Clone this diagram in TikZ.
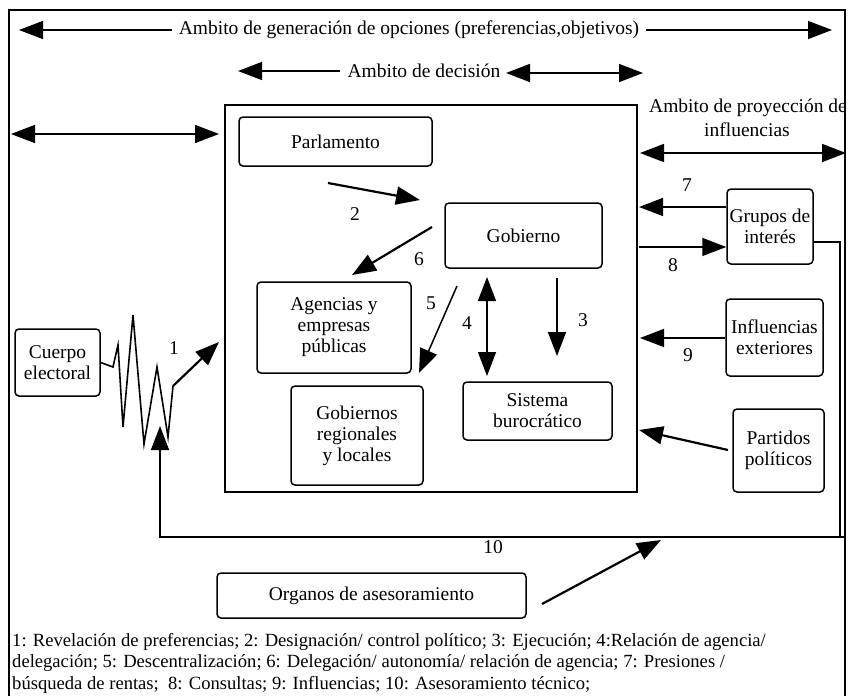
\documentclass[tikz,border=0pt]{standalone}
\usepackage{fontspec}
\setmainfont{Liberation Serif}
\usetikzlibrary{arrows.meta}
\tikzset{
  txt/.style={font=\fontsize{19.5}{21}\selectfont, inner sep=2pt},
  scopelbl/.style={font=\fontsize{19.5}{21}\selectfont, inner xsep=7pt, inner ysep=2pt},
  box/.style={draw, rounded corners=4pt, line width=1.5pt, align=center, inner sep=0pt, font=\fontsize{19.5}{21}\selectfont},
  arr/.style={line width=2.2pt, -{Triangle[length=24pt,width=18pt]}},
  darr/.style={line width=1.6pt, {Triangle[length=24pt,width=18pt]}-{Triangle[length=24pt,width=18pt]}},
  thin arr/.style={line width=1.5pt, -{Triangle[length=24pt,width=18pt]}},
  frame/.style={line width=2.4pt},
  num/.style={font=\fontsize{19.5}{21}\selectfont, inner sep=0pt},
}
\begin{document}
\begin{tikzpicture}[x=1pt,y=-1pt]
\useasboundingbox (0,0) rectangle (855,696);
% inner decision box
\node[draw, line width=1.4pt, minimum width=412pt, minimum height=387pt, inner sep=0pt] (inner) at (431,298.5) {};

% top scope arrows
\node[scopelbl] (gen) at (409,30) {Ambito de generación de opciones (preferencias,objetivos)};
\coordinate (genL) at (19,30);
\coordinate (genR) at (832,30);
\draw[thin arr] (gen.west) -- (genL);
\draw[thin arr] (gen.east) -- (genR);

\node[scopelbl] (dec) at (424,71) {Ambito de decisión};
\coordinate (decL) at (238,71);
\coordinate (decA) at (506,73);
\coordinate (decB) at (643,73);
\draw[thin arr] (dec.west) -- (decL);
\draw[darr] (decA) -- (decB);

\coordinate (leftA) at (11,134);
\coordinate (leftB) at (219,134);
\draw[darr] (leftA) -- (leftB);

\begin{scope}
\clip (600,90) rectangle (845,120);
\node[txt, anchor=west] (proy) at (647,108) {Ambito de proyección de};
\end{scope}
\node[txt] (infl) at (747,130) {influencias};
\coordinate (proyA) at (640,153);
\coordinate (proyB) at (846,153);
\draw[darr] (proyA) -- (proyB);

% outer frame
\draw[frame] (9,696) -- (9,10) -- (845,10) -- (845,696);

% boxes
\node[box, minimum width=193pt, minimum height=49pt] (parl) at (335.5,141.5) {Parlamento};
\node[box, minimum width=157pt, minimum height=65pt] (gob) at (523.5,235.5) {Gobierno};
\node[box, minimum width=154pt, minimum height=91pt] (agen) at (334,327.5) {Agencias y\\empresas\\públicas};
\node[box, minimum width=132pt, minimum height=99pt] (greg) at (357,435.5) {Gobiernos\\regionales\\y locales};
\node[box, minimum width=149pt, minimum height=58pt] (sist) at (537.5,411) {Sistema\\burocrático};
\node[box, minimum width=86pt, minimum height=75pt] (grup) at (770,226.5) {Grupos de\\interés};
\node[box, minimum width=97pt, minimum height=77pt] (infx) at (774.5,337.5) {Influencias\\exteriores};
\node[box, minimum width=91pt, minimum height=83pt] (part) at (778.5,450.5) {Partidos\\políticos};
\node[box, minimum width=85pt, minimum height=67pt] (cuer) at (57.5,362.5) {Cuerpo\\electoral};
\node[box, minimum width=309pt, minimum height=45pt] (org) at (371.5,595.5) {Organos de asesoramiento};

% arrows inside
\coordinate (a2s) at (328,183); \coordinate (a2e) at (420,200);
\draw[arr] (a2s) -- (a2e);
\coordinate (a6s) at (432,227); \coordinate (a6e) at (352,275);
\draw[arr] (a6s) -- (a6e);
\coordinate (a5s) at (457,286); \coordinate (a5e) at (419,373);
\draw[thin arr] (a5s) -- (a5e);
\coordinate (a4s) at (487,277); \coordinate (a4e) at (487,376);
\draw[darr, line width=1.5pt] (a4s) -- (a4e);
\coordinate (a3s) at (557,278); \coordinate (a3e) at (557,356);
\draw[thin arr] (a3s) -- (a3e);

% right side arrows
\coordinate (a7e) at (639,207);
\draw[thin arr] (grup.west |- a7e) -- (a7e);
\coordinate (a8s) at (639,247);
\draw[thin arr] (a8s) -- (grup.west |- a8s);
\coordinate (a9e) at (640,338);
\draw[thin arr] (infx.west |- a9e) -- (a9e);
\coordinate (aps) at (728,450); \coordinate (ape) at (639,430);
\draw[arr] (aps) -- (ape);

% electoral zigzag
\coordinate (z9) at (173,386);
\coordinate (a1e) at (219,342);
\draw[line width=1.6pt, line join=miter] (cuer.east) -- (113,367) -- (118,345) -- (123,427) -- (133,315) -- (144,444) -- (157,367) -- (168,437) -- (z9);
\draw[arr] (z9) -- (a1e);

% feedback line
\coordinate (fb1) at (840,242);
\coordinate (fb2) at (840,537);
\coordinate (fb3) at (160,537);
\coordinate (fbt) at (160,426);
\draw[line width=1.5pt] (grup.east |- fb1) -- (fb1) -- (fb2);
\draw[line width=1.5pt] (fb2) -- (845,537);
\draw[thin arr] (fb2) -- (fb3) -- (fbt);

% advisory arrow
\coordinate (a10s) at (542,604); \coordinate (a10e) at (661,540);
\draw[arr] (a10s) -- (a10e);

% numbers
\node[num] (n1) at (174,348) {1};
\node[num] (n2) at (355,214) {2};
\node[num] (n3) at (583,320) {3};
\node[num] (n4) at (467,323) {4};
\node[num] (n5) at (431,303) {5};
\node[num] (n6) at (419,259) {6};
\node[num] (n7) at (687,185) {7};
\node[num] (n8) at (673,265) {8};
\node[num] (n9) at (688,355) {9};
\node[num] (n10) at (493,547) {10};

% legend
\node[anchor=north west, align=left, inner sep=0pt, font=\fontsize{18.6}{21.5}\selectfont] (legend) at (12,633) {1: Revelación de preferencias; 2: Designación/ control político; 3: Ejecución; 4:Relación de agencia/\\delegación; 5: Descentralización; 6: Delegación/ autonomía/ relación de agencia; 7: Presiones /\\búsqueda de rentas;\ \ 8: Consultas; 9: Influencias; 10: Asesoramiento técnico;};
\end{tikzpicture}
\end{document}
